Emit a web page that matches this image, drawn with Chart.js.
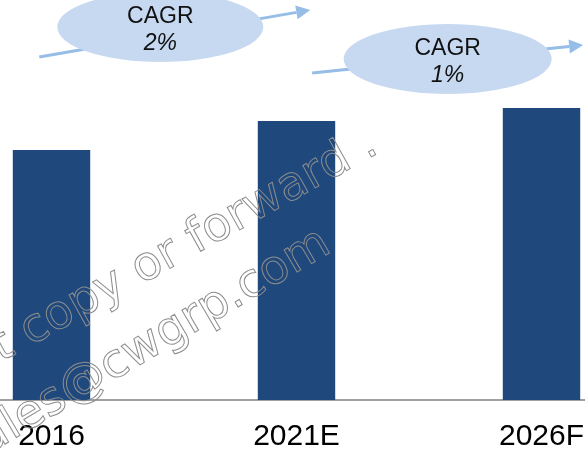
<!DOCTYPE html>
<html>
<head>
<meta charset="utf-8">
<script src="https://cdn.jsdelivr.net/npm/chart.js@4/dist/chart.umd.min.js"></script>
<style>
  html, body { margin: 0; padding: 0; background: #fff; overflow: hidden; width: 585px; height: 453px; }
  #wrap { position: absolute; left: -71px; top: 0; width: 735px; height: 474px; }
</style>
</head>
<body>
<div id="wrap"><canvas id="cagrChart" width="735" height="474"></canvas></div>
<script>
const years = ['2016', '2021E', '2026F'];
const values = [25.0, 27.9, 29.2];   // relative bar heights
const cagrRates = ['2%', '1%'];      // between 2016-2021E and 2021E-2026F

const FONT = '"Liberation Sans", Arial, sans-serif';
const BAR_BLUE = '#1F497D';
const ARROW_BLUE = '#95BDE6';
const OVAL_BLUE = '#C6D9F1';

// callout layout in scale units (x = category index, y = value units)
const callouts = [
    { cx: 0.444, cy: 37.3, rx: 103, ry: 35, from: [-0.050, 34.3], to: [1.056, 39.0] },
    { cx: 1.617, cy: 34.1, rx: 104, ry: 35, from: [1.064, 32.7], to: [2.170, 35.5] }
];

function drawArrow(ctx, x1, y1, x2, y2) {
    const ang = Math.atan2(y2 - y1, x2 - x1);
    const head = 14, half = 7;
    ctx.save();
    ctx.strokeStyle = ARROW_BLUE;
    ctx.fillStyle = ARROW_BLUE;
    ctx.lineWidth = 3;
    ctx.beginPath();
    ctx.moveTo(x1, y1);
    ctx.lineTo(x2 - head * Math.cos(ang), y2 - head * Math.sin(ang));
    ctx.stroke();
    ctx.beginPath();
    ctx.moveTo(x2, y2);
    ctx.lineTo(x2 - head * Math.cos(ang) + half * Math.sin(ang), y2 - head * Math.sin(ang) - half * Math.cos(ang));
    ctx.lineTo(x2 - head * Math.cos(ang) - half * Math.sin(ang), y2 - head * Math.sin(ang) + half * Math.cos(ang));
    ctx.closePath();
    ctx.fill();
    ctx.restore();
}

const cagrPlugin = {
    id: 'cagrCallouts',
    afterDraw(chart) {
        const { ctx, scales: { x, y } } = chart;
        callouts.forEach((c, i) => {
            drawArrow(ctx,
                x.getPixelForValue(c.from[0]), y.getPixelForValue(c.from[1]),
                x.getPixelForValue(c.to[0]), y.getPixelForValue(c.to[1]));
            const cx = x.getPixelForValue(c.cx);
            const cy = y.getPixelForValue(c.cy);
            ctx.save();
            ctx.fillStyle = OVAL_BLUE;
            ctx.beginPath();
            ctx.ellipse(cx, cy, c.rx, c.ry, 0, 0, Math.PI * 2);
            ctx.fill();
            ctx.fillStyle = '#111';
            ctx.textAlign = 'center';
            ctx.textBaseline = 'alphabetic';
            ctx.font = '23px ' + FONT;
            ctx.fillText('CAGR', cx, cy - 4);
            ctx.font = 'italic 23px ' + FONT;
            ctx.fillText(cagrRates[i], cx, cy + 23);
            ctx.restore();
        });
    }
};

// outlined diagonal watermark across the plot
const watermarkPlugin = {
    id: 'watermark',
    afterDraw(chart) {
        const ctx = chart.ctx;
        const lines = [
            { text: 'Do not copy or forward .', x: 451, y: 152, deg: -29 },
            { text: 'sales@cwgrp.com', x: 404, y: 251, deg: -30.5 }
        ];
        ctx.save();
        ctx.font = '47px "DejaVu Sans", sans-serif';
        ctx.strokeStyle = '#8c8c8c';
        ctx.lineWidth = 1;
        ctx.textAlign = 'right';
        ctx.textBaseline = 'alphabetic';
        lines.forEach(l => {
            ctx.save();
            ctx.translate(l.x, l.y);
            ctx.rotate(l.deg * Math.PI / 180);
            ctx.strokeText(l.text, 0, 0);
            ctx.restore();
        });
        ctx.restore();
    }
};

new Chart(document.getElementById('cagrChart'), {
    type: 'bar',
    data: {
        labels: years,
        datasets: [{
            data: values,
            backgroundColor: BAR_BLUE,
            barPercentage: 0.316,
            categoryPercentage: 1
        }]
    },
    options: {
        responsive: false,
        animation: false,
        layout: { padding: { top: 100, left: 0, right: 0, bottom: 0 } },
        plugins: { legend: { display: false }, tooltip: { enabled: false } },
        scales: {
            x: {
                grid: { display: false, drawTicks: false },
                border: { display: true, color: '#a0a0a0', width: 2 },
                ticks: { color: '#000', padding: 19, font: { family: FONT, size: 30 } }
            },
            y: { display: false, min: 0, max: 30 }
        }
    },
    plugins: [cagrPlugin, watermarkPlugin]
});
</script>
</body>
</html>
